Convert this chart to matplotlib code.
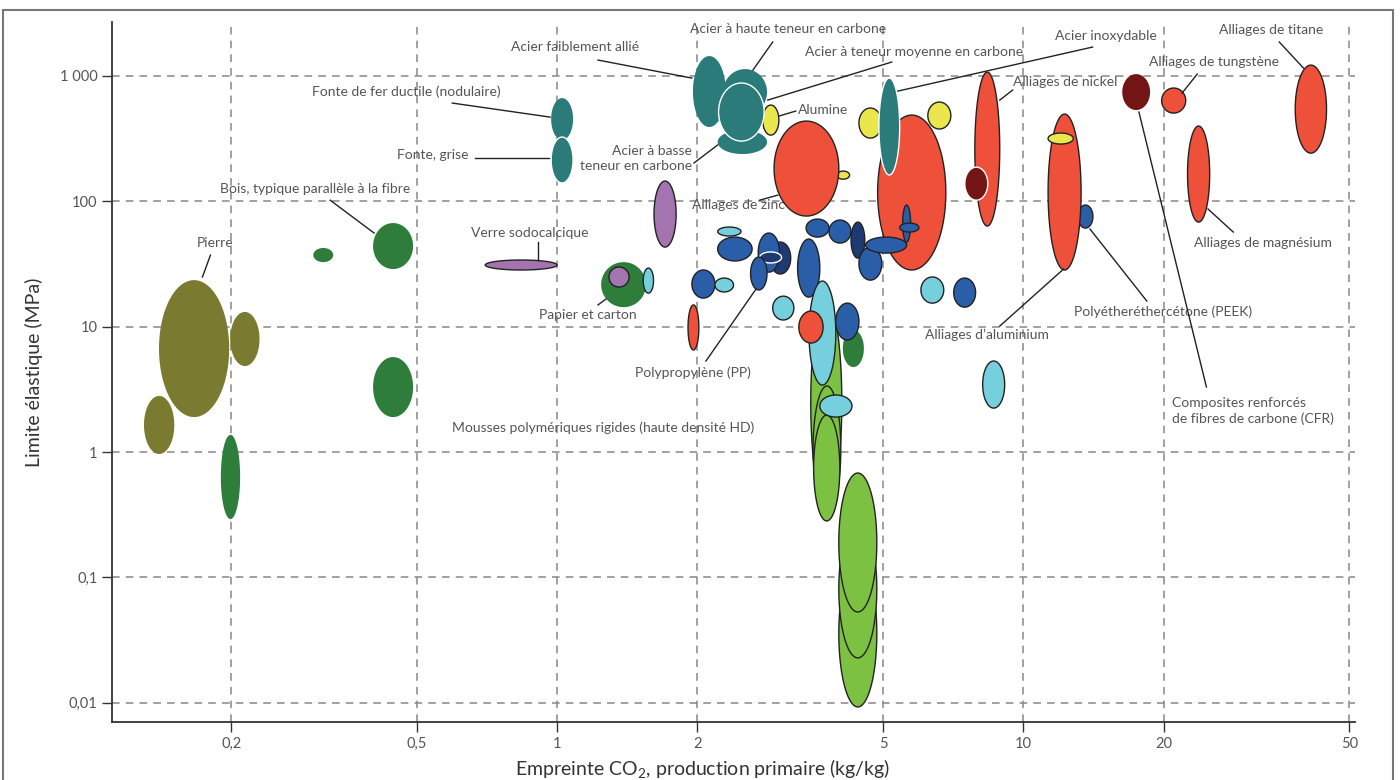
import matplotlib
matplotlib.use('Agg')
import matplotlib.pyplot as plt
import numpy as np
from matplotlib.patches import Polygon, Rectangle

plt.rcParams['font.family'] = ['Lato', 'DejaVu Sans']
plt.rcParams['mathtext.fontset'] = 'custom'
plt.rcParams['mathtext.rm'] = 'Lato'
plt.rcParams['mathtext.default'] = 'regular'

# --- data: CO2 footprint range (kg/kg) and yield strength range (MPa), draw order back to front
mat_names = ['Pierre', 'Pierre b', 'Pierre c',
             'Bois a', 'Bois, typique parallèle à la fibre', 'Bois c', 'Bois d',
             'Papier et carton', 'Verre sodocalcique', 'Polymère violet', 'Polymère violet b', 'Polymère cyan a',
             'Fonte de fer ductile', 'Fonte, grise', 'Acier faiblement allié', 'Acier à basse teneur en carbone',
             'Acier à haute teneur en carbone', 'Alumine', 'Acier à teneur moyenne en carbone',
             'Céramique b', 'Alliages de zinc', 'Céramique c', 'Céramique d', 'Alliages de cuivre',
             'Acier inoxydable', 'Polymère croix v', 'Polymère croix h', 'Alliages de nickel', 'Composite b',
             'PEEK', 'Alliages d\'aluminium', 'Céramique e', 'Alliages de tungstène', 'Alliages de magnésium',
             'Alliages de titane', 'CFR',
             'Élastomère a', 'Polymère a', 'Polymère sombre a', 'Polymère b', 'Polymère sombre b', 'PP',
             'Polymère c', 'Élastomère b', 'Élastomère c', 'Polymère d', 'Polymère e', 'Polymère f',
             'Polymère sombre c', 'Polymère g', 'Polymère h', 'Polymère i', 'Élastomère d', 'Élastomère e',
             'Alliages de plomb',
             'Mousse a', 'Mousse b', 'Mousse c', 'Mousse HD c', 'Mousse HD b', 'Mousse HD a',
             'Élastomère f', 'Élastomère g', 'Métal f', 'Naturel f', 'Polymère j']
co2_lo = [0.140, 0.199, 0.130,
          0.300, 0.403, 0.403, 0.190,
          1.243, 0.701, 1.614, 1.292, 1.53,
          0.971, 0.971, 1.956, 2.21,
          2.27, 2.76, 2.22,
          3.98, 2.92, 4.44, 6.24, 4.87,
          4.90, 5.51, 5.43, 7.87, 7.49,
          13.1, 11.3, 11.3, 19.8, 22.5,
          38.3, 16.3,
          2.21, 2.21, 2.86, 2.70, 2.72, 2.60,
          1.946, 2.18, 2.90, 3.28, 3.42, 3.83,
          4.27, 4.44, 4.59, 7.09, 6.03, 8.18,
          1.909,
          3.50, 3.54, 3.55, 4.02, 4.02, 4.02,
          3.47, 3.66, 3.30, 4.10, 3.96]
co2_hi = [0.198, 0.230, 0.151,
          0.331, 0.491, 0.491, 0.209,
          1.551, 1.00, 1.80, 1.427, 1.61,
          1.082, 1.082, 2.30, 2.82,
          2.82, 2.99, 2.78,
          4.24, 4.02, 4.97, 6.99, 6.82,
          5.43, 5.73, 5.97, 8.90, 8.39,
          14.1, 13.3, 12.8, 22.3, 25.1,
          44.7, 18.7,
          2.48, 2.62, 3.17, 3.00, 3.03, 2.82,
          2.18, 2.39, 3.22, 3.66, 3.83, 4.27,
          4.57, 4.97, 5.62, 7.90, 6.75, 9.12,
          2.014,
          4.08, 4.06, 4.04, 4.85, 4.85, 4.85,
          3.96, 4.29, 3.72, 4.55, 4.44]
sy_lo = [1.90, 4.85, 0.964,
         32.7, 28.8, 1.90, 0.292,
         14.3, 28.3, 43.1, 20.7, 18.5,
         308, 140, 391, 238,
         487, 337, 302,
         150, 76.2, 319, 377, 28.3,
         162, 47.3, 56.8, 63.4, 102,
         61.1, 28.3, 286, 505, 68.2,
         242, 534,
         52.8, 33.4, 26.3, 27.2, 32.2, 19.6,
         16.9, 18.9, 11.3, 17.2, 51.8, 46.4,
         35.2, 23.5, 38.6, 14.3, 15.4, 2.24,
         6.51,
         0.378, 0.332, 0.282, 0.00926, 0.0228, 0.053,
         3.42, 1.90, 7.40, 4.76, 7.82]
sy_hi = [23.5, 13.1, 2.80,
         42.4, 67.0, 5.72, 1.37,
         32.7, 34.0, 145, 29.9, 29.3,
         665, 325, 1439, 370,
         1133, 585, 877,
         174, 436, 554, 618, 487,
         960, 93.3, 67.0, 1072, 187,
         93.3, 496, 350, 800, 398,
         1219, 1033,
         62.3, 51.8, 47.3, 55.8, 39.4, 35.9,
         28.3, 24.4, 17.5, 50.0, 72.1, 70.8,
         68.2, 43.1, 51.8, 24.4, 24.9, 5.32,
         14.9,
         16.3, 3.36, 1.97, 0.138, 0.287, 0.680,
         23.1, 2.85, 13.3, 9.40, 15.4]
mat_family = ['olive', 'olive', 'olive',
              'green', 'green', 'green', 'green',
              'green', 'purple', 'purple', 'purple', 'cyan',
              'teal', 'teal', 'teal', 'teal',
              'teal', 'yellow', 'teal',
              'yellow', 'red', 'yellow', 'yellow', 'red',
              'teal', 'blue', 'blue', 'red', 'darkred',
              'blue', 'red', 'yellow', 'red', 'red',
              'red', 'darkred',
              'cyan', 'blue', 'navy', 'blue', 'navy', 'blue',
              'blue', 'cyan', 'cyan', 'blue', 'blue', 'blue',
              'navy', 'blue', 'blue', 'blue', 'cyan', 'cyan',
              'red',
              'lime', 'lime', 'lime', 'lime', 'lime', 'lime',
              'cyan', 'cyan', 'red', 'green', 'blue']
mat_edge = ['none', 'none', 'none',
            'none', 'none', 'none', 'none',
            'none', 'dark', 'dark', 'dark', 'dark',
            'none', 'white', 'none', 'none',
            'none', 'dark', 'white',
            'dark', 'dark', 'dark', 'dark', 'dark',
            'white', 'dark', 'dark', 'dark', 'white',
            'dark', 'dark', 'dark', 'dark', 'dark',
            'dark', 'none',
            'dark', 'dark', 'dark', 'dark', 'white', 'dark',
            'dark', 'dark', 'dark', 'dark', 'dark', 'dark',
            'dark', 'dark', 'dark', 'dark', 'dark', 'dark',
            'dark',
            'dark', 'dark', 'dark', 'dark', 'dark', 'dark',
            'dark', 'dark', 'dark', 'none', 'dark']

family_colors = {'olive': '#7a7a30', 'green': '#2e7d3b', 'purple': '#a474b0', 'teal': '#2b7b7b',
                 'yellow': '#ebe64c', 'red': '#ef5039', 'darkred': '#741515', 'blue': '#2a5ea9',
                 'navy': '#1f3a72', 'cyan': '#76cfdd', 'lime': '#7dc142'}
edge_colors = {'none': 'none', 'dark': '#222222', 'white': 'white'}

# --- labels: text, text position (data), alignment, leader line start/end (data)
lab_text = ['Acier à haute teneur en carbone', 'Acier faiblement allié', 'Acier à teneur moyenne en carbone',
            'Acier inoxydable', 'Alliages de titane', 'Alliages de tungstène', 'Alliages de nickel',
            'Alumine', 'Fonte de fer ductile (nodulaire)', 'Fonte, grise', 'Acier à basse\nteneur en carbone',
            'Bois, typique parallèle à la fibre', 'Pierre', 'Verre sodocalcique', 'Alliages de zinc',
            'Papier et carton', 'Polypropylène (PP)', 'Mousses polymériques rigides (haute densité HD)',
            'Alliages d\u2019aluminium', 'Polyétheréthercétone (PEEK)', 'Alliages de magnésium',
            'Composites renforcés\nde fibres de carbone (CFR)']
lab_x = [3.13, 1.093, 5.82, 15.0, 34.0, 25.6, 12.3, 3.28, 0.475, 0.540, 1.946,
         0.303, 0.185, 0.875, 1.946, 1.165, 1.956, 1.255, 8.35, 19.9, 32.7, 20.8]
lab_y = [2361, 1698, 1549, 2076, 2318, 1289, 893, 534, 743, 233, 221,
         125, 46.4, 55.8, 93.3, 12.4, 4.27, 1.554, 8.57, 13.1, 46.4, 2.12]
lab_ha = ['center', 'center', 'center', 'center', 'center', 'center', 'center', 'left', 'center', 'center',
          'right', 'center', 'center', 'center', 'left', 'center', 'center', 'center', 'center', 'center',
          'center', 'left']
lead_x0 = [2.90, 1.224, 5.22, 14.08, 35.4, 23.6, 9.49, 3.25, 0.596, 0.667, 1.966,
           0.326, 0.1805, 0.911, 2.72, 1.224, 2.086, None, 8.90, 18.4, 28.2, 24.7]
lead_y0 = [1862, 1337, 1289, 1698, 1862, 1033, 771, 524, 607, 221, 202,
           102, 37.2, 47.3, 102, 14.9, 5.32, None, 10.1, 16.0, 56.8, 3.30]
lead_x1 = [2.63, 1.946, 2.83, 5.38, 39.9, 21.9, 8.90, 2.99, 0.966, 0.961, 2.21,
           0.405, 0.1735, 0.911, 2.975, 1.273, 2.67, None, 12.2, 13.9, 24.9, 17.7]
lead_y1 = [1112, 960, 641, 756, 1153, 729, 641, 478, 469, 221, 281,
           55.8, 24.9, 34.0, 112, 16.6, 19.9, None, 28.8, 60.0, 86.7, 514]

x_ticks = [0.2, 0.5, 1, 2, 5, 10, 20, 50]
x_ticklabels = ['0,2', '0,5', '1', '2', '5', '10', '20', '50']
y_ticks = [0.01, 0.1, 1, 10, 100, 1000]
y_ticklabels = ['0,01', '0,1', '1', '10', '100', '1 000']

fig = plt.figure(figsize=(14, 7.8), dpi=100)
ax = fig.add_axes([0.08, 0.0744, 0.888, 0.8974])
ax.set_xscale('log')
ax.set_yscale('log')
ax.set_xlim(0.111, 51.5)
ax.set_ylim(0.00703, 2690)

# ellipses are drawn in log space so they look like ellipses on the page
t = np.linspace(0, 2 * np.pi, 160)
for i in range(len(mat_names)):
    cx = (np.log10(co2_lo[i]) + np.log10(co2_hi[i])) / 2
    rx = (np.log10(co2_hi[i]) - np.log10(co2_lo[i])) / 2
    cy = (np.log10(sy_lo[i]) + np.log10(sy_hi[i])) / 2
    ry = (np.log10(sy_hi[i]) - np.log10(sy_lo[i])) / 2
    pts = np.column_stack([10 ** (cx + rx * np.cos(t)), 10 ** (cy + ry * np.sin(t))])
    ec = edge_colors[mat_edge[i]]
    ax.add_patch(Polygon(pts, closed=True, facecolor=family_colors[mat_family[i]],
                         edgecolor=ec, linewidth=1.0 if ec != 'none' else 0, zorder=3))

for i in range(len(lab_text)):
    z = 2 if lab_text[i] == 'Alliages de zinc' else 5
    ax.text(lab_x[i], lab_y[i], lab_text[i], ha=lab_ha[i], va='center', fontsize=10,
            color='#555555', zorder=z, linespacing=1.3)
    if lead_x0[i] is not None:
        ax.plot([lead_x0[i], lead_x1[i]], [lead_y0[i], lead_y1[i]], color='#222222',
                lw=1.0, zorder=z)

ax.set_xticks(x_ticks, x_ticklabels)
ax.set_yticks(y_ticks, y_ticklabels)
ax.minorticks_off()
ax.grid(True, color='#888888', linestyle=(0, (5, 4)), linewidth=1.1, zorder=0)
ax.set_axisbelow(True)
ax.tick_params(axis='both', colors='#333333', labelcolor='#555555', labelsize=10.5, length=7, width=1)

for s in ['top', 'right']:
    ax.spines[s].set_visible(False)
for s in ['left', 'bottom']:
    ax.spines[s].set_color('#333333')
    ax.spines[s].set_linewidth(1.3)

ax.set_xlabel('Empreinte CO$_2$, production primaire (kg/kg)', fontsize=14, color='#333333')
ax.xaxis.set_label_coords(0.475, -0.05)
ax.set_ylabel('Limite élastique (MPa)', fontsize=14, color='#333333', labelpad=12)

fig.patches.append(Rectangle((0.002, -0.02), 0.993, 1.007, transform=fig.transFigure, fill=False,
                             edgecolor='#777777', linewidth=1.5))

fig.savefig('out.png', dpi=100)
